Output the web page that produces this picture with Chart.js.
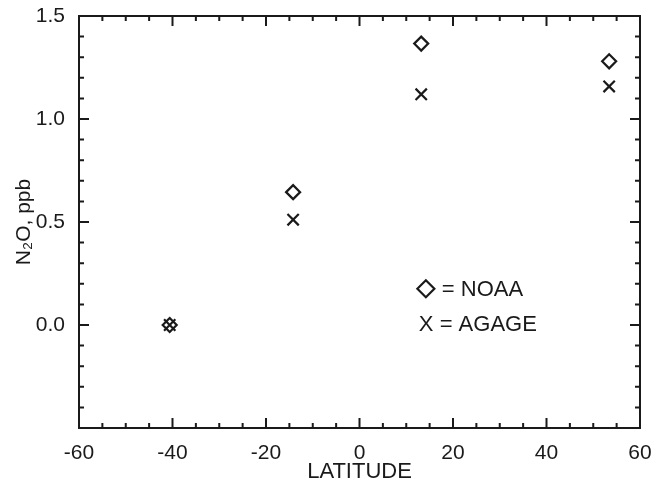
<!DOCTYPE html>
<html>
<head>
<meta charset="utf-8">
<script src="https://cdn.jsdelivr.net/npm/chart.js@4.4.0/dist/chart.umd.min.js"></script>
<style>
  html, body { margin: 0; padding: 0; background: #fff; }
  #wrap { width: 653px; height: 485px; }
</style>
</head>
<body>
<div id="wrap"><canvas id="grafico"></canvas></div>
<script>
// datos
const latitudNoaa = [-40.6, -14.2, 13.2, 53.4];
const valoresNoaa = [0.0, 0.645, 1.366, 1.28];
const latitudAgage = [-40.6, -14.2, 13.2, 53.4];
const valoresAgage = [0.0, 0.511, 1.12, 1.158];
const etiquetasX = [-60, -40, -20, 0, 20, 40, 60];
const etiquetasY = [0.0, 0.5, 1.0, 1.5];
const leyenda = ['= NOAA', 'X = AGAGE'];

const fuente = '"Liberation Sans", Arial, sans-serif';
const colorTinta = '#1a1a1a';

const toPoints = (xs, ys) => xs.map((x, i) => ({ x, y: ys[i] }));

// marco, ticks hacia dentro y leyenda
const marcoPlugin = {
  id: 'marco',
  afterDraw(chart) {
    const { ctx, chartArea: a, scales } = chart;
    const sx = scales.x, sy = scales.y;
    ctx.save();
    ctx.strokeStyle = colorTinta;
    ctx.lineWidth = 2;
    ctx.strokeRect(a.left, a.top, a.right - a.left, a.bottom - a.top);

    ctx.beginPath();
    sx.ticks.forEach(t => {
      const px = sx.getPixelForValue(t.value);
      const mayor = etiquetasX.includes(Math.round(t.value));
      const largo = mayor ? 10 : 5;
      ctx.moveTo(px, a.bottom); ctx.lineTo(px, a.bottom - largo);
      ctx.moveTo(px, a.top); ctx.lineTo(px, a.top + largo);
    });
    sy.ticks.forEach(t => {
      const py = sy.getPixelForValue(t.value);
      const mayor = Math.round(t.value * 10) % 5 === 0;
      const largo = mayor ? 10 : 5;
      ctx.moveTo(a.left, py); ctx.lineTo(a.left + largo, py);
      ctx.moveTo(a.right, py); ctx.lineTo(a.right - largo, py);
    });
    ctx.stroke();

    // leyenda
    const lx = sx.getPixelForValue(12.7);
    const ly1 = sy.getPixelForValue(0.176);
    const ly2 = sy.getPixelForValue(0.004);
    ctx.lineWidth = 2.2;
    ctx.beginPath();
    const cx = lx + 7, r = 8.5;
    ctx.moveTo(cx, ly1 - r); ctx.lineTo(cx + r, ly1); ctx.lineTo(cx, ly1 + r); ctx.lineTo(cx - r, ly1); ctx.closePath();
    ctx.stroke();
    ctx.fillStyle = colorTinta;
    ctx.font = '22px ' + fuente;
    ctx.textBaseline = 'middle';
    ctx.textAlign = 'left';
    ctx.fillText(leyenda[0], lx + 23, ly1 + 1);
    ctx.fillText(leyenda[1], lx, ly2 + 1);
    ctx.restore();
  }
};

new Chart(document.getElementById('grafico'), {
  type: 'scatter',
  data: {
    datasets: [
      {
        label: 'NOAA',
        data: toPoints(latitudNoaa, valoresNoaa),
        pointStyle: 'rectRot',
        radius: 7,
        borderColor: colorTinta,
        backgroundColor: 'rgba(0,0,0,0)',
        borderWidth: 2.2
      },
      {
        label: 'AGAGE',
        data: toPoints(latitudAgage, valoresAgage),
        pointStyle: 'crossRot',
        radius: 8,
        borderColor: colorTinta,
        backgroundColor: colorTinta,
        borderWidth: 2.2
      }
    ]
  },
  options: {
    responsive: true,
    maintainAspectRatio: false,
    animation: false,
    layout: { padding: { top: 16, right: 13, left: 0, bottom: 0 } },
    plugins: { legend: { display: false }, tooltip: { enabled: false } },
    scales: {
      x: {
        type: 'linear',
        min: -60, max: 60,
        grid: { display: false },
        border: { display: false },
        ticks: {
          stepSize: 5,
          autoSkip: false,
          maxRotation: 0,
          padding: 5,
          color: colorTinta,
          font: { family: fuente, size: 21 },
          callback: v => etiquetasX.includes(Math.round(v)) ? String(Math.round(v)) : ''
        },
        title: {
          display: true,
          text: 'LATITUDE',
          color: colorTinta,
          font: { family: fuente, size: 22 },
          padding: { top: 0, bottom: 0 }
        },
        afterFit: s => { s.height = 57; s.paddingLeft = 0; s.paddingRight = 0; }
      },
      y: {
        type: 'linear',
        min: -0.5, max: 1.5,
        grid: { display: false },
        border: { display: false },
        ticks: {
          stepSize: 0.1,
          autoSkip: false,
          padding: 6,
          color: colorTinta,
          font: { family: fuente, size: 21 },
          callback: v => {
            const r = Math.round(v * 10) / 10;
            return etiquetasY.some(e => Math.abs(e - r) < 1e-6) ? r.toFixed(1) : '';
          }
        },
        title: {
          display: true,
          text: 'N₂O, ppb',
          color: colorTinta,
          font: { family: fuente, size: 21 },
          padding: { top: 12, bottom: 4 }
        },
        afterFit: s => { s.width = 79; s.paddingTop = 0; s.paddingBottom = 0; }
      }
    }
  },
  plugins: [marcoPlugin]
});
</script>
</body>
</html>
